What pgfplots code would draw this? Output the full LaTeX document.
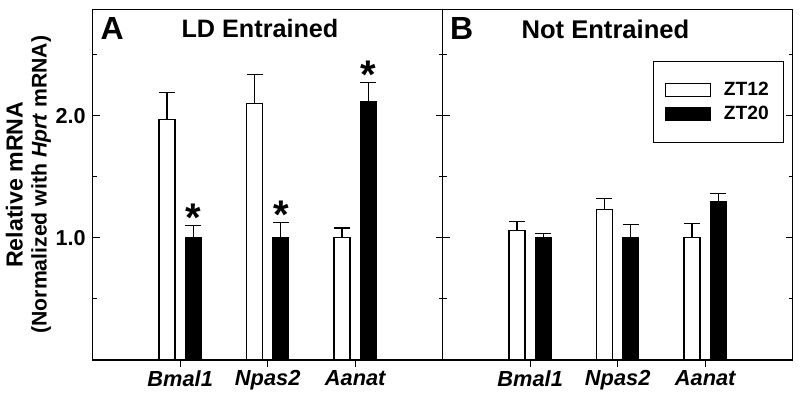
\documentclass[border=0pt]{standalone}
\usepackage{pgfplots}
\pgfplotsset{compat=1.18}
\usepackage{fontspec}
\setmainfont{Liberation Sans}
\tikzset{
  star/.style={font=\fontsize{20}{20}\selectfont\bfseries, inner sep=0pt, anchor=north, xshift=6.6pt},
}
\begin{document}
\begin{tikzpicture}
\useasboundingbox (0,0) rectangle (400pt,-196.5pt);
\pgfplotsset{
  panel/.style={
    scale only axis, width=175pt, height=175.35pt,
    anchor=south west,
    xmin=-1, xmax=3, ymin=0, ymax=2.87,
    axis line style={line width=0.65pt},
    xtick={0,1,2}, xticklabels={Bmal1,Npas2,Aanat},
    xtick pos=bottom,
    ytick={1,2}, minor ytick={0.5,1.5,2.5},
    ytick align=inside, xtick align=outside,
    major tick length=3.5pt, minor tick length=2pt,
    tick style={line width=0.5pt, black},
    x tick label style={font=\fontsize{10.9}{12}\selectfont\bfseries\itshape, yshift=1.8pt},
    y tick label style={font=\fontsize{10.8}{12}\selectfont\bfseries, /pgf/number format/assume math mode=true,
      /pgf/number format/fixed, /pgf/number format/fixed zerofill, /pgf/number format/precision=1},
    ybar, bar width=8pt,
    error bars/y dir=plus, error bars/y explicit,
    error bars/error bar style={line width=0.55pt, black},
    error bars/error mark options={rotate=90, mark size=4pt, line width=0.55pt, black},
    clip=false,
  },
  z12/.style={fill=white, draw=black, line width=0.55pt, bar shift=-6.6pt},
  z20/.style={fill=black, draw=black, line width=0.55pt, bar shift=6.6pt},
}
% Panel A
\begin{axis}[panel, at={(46.35pt,-180pt)},
  ylabel={{\fontsize{11.6}{10}\selectfont Relative mRNA}\\{\fontsize{10.6}{10}\selectfont (Normalized with \textit{Hprt} mRNA)}},
  ylabel style={font=\bfseries, align=center, at={(axis description cs:-0.184,0.5)}, anchor=center},
]
\addplot[z12] coordinates {(0,1.97) +- (0,0.22) (1,2.10) +- (0,0.24) (2,1.00) +- (0,0.08)};
\addplot[z20] coordinates {(0,1.00) +- (0,0.10) (1,1.00) +- (0,0.125) (2,2.115) +- (0,0.153)};
\node[star] at (axis cs:0,1.277) {*};
\node[star] at (axis cs:1,1.304) {*};
\node[star] at (axis cs:2,2.45) {*};
\node[font=\fontsize{16}{16}\selectfont\bfseries] at (rel axis cs:0.0557,0.946) {A};
\node[font=\fontsize{12.6}{14}\selectfont\bfseries] at (rel axis cs:0.478,0.944) {LD Entrained};
\end{axis}
% Panel B
\begin{axis}[panel, at={(221.35pt,-180pt)}, yticklabels={},
  legend style={at={(axis description cs:1,1)}, anchor=north east, xshift=-4.2pt, yshift=-25.85pt,
    draw=black, line width=0.6pt, font=\fontsize{9.6}{11}\selectfont\bfseries,
    inner xsep=5.5pt, inner ysep=8pt, row sep=0pt, column sep=4.5pt, cells={anchor=west}},
  legend image code/.code={\draw[#1, line width=0.55pt] (0pt,-3.25pt) rectangle (22.5pt,3.25pt);},
]
\addplot[z12] coordinates {(0,1.06) +- (0,0.07) (1,1.232) +- (0,0.087) (2,1.00) +- (0,0.115)};
\addplot[z20] coordinates {(0,1.00) +- (0,0.033) (1,1.00) +- (0,0.109) (2,1.295) +- (0,0.071)};
\legend{ZT12, ZT20}
\node[font=\fontsize{16}{16}\selectfont\bfseries] at (rel axis cs:0.054,0.946) {B};
\node[font=\fontsize{12.8}{14}\selectfont\bfseries] at (rel axis cs:0.465,0.944) {Not Entrained};
\end{axis}
\end{tikzpicture}
\end{document}
